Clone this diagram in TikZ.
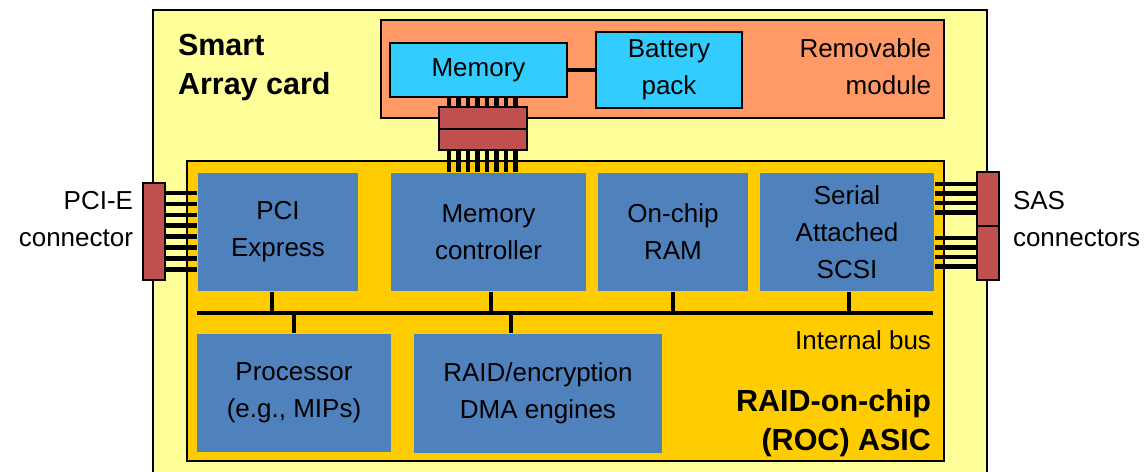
\documentclass[tikz,border=0pt]{standalone}
\usepackage{fontspec}
\setmainfont{Liberation Sans}
\definecolor{cardyellow}{HTML}{FFFF99}
\definecolor{modorange}{HTML}{FF9966}
\definecolor{rocgold}{HTML}{FFCC00}
\definecolor{chipblue}{HTML}{4F81BD}
\definecolor{memcyan}{HTML}{33CCFF}
\definecolor{plugred}{HTML}{C0504D}
\begin{document}
\begin{tikzpicture}[x=1pt, y=-1pt, line width=2pt,
  box/.style={inner sep=0pt, align=center, font=\fontsize{26}{37}\selectfont},
  area/.style={draw, inner sep=0pt},
  chipblk/.style={box, fill=chipblue},
  membox/.style={box, draw, fill=memcyan},
  plug/.style={draw, fill=plugred, inner sep=0pt},
  pin/.style={line width=4.5pt},
  bus/.style={line width=4pt},
  lbl/.style={inner sep=0pt, font=\fontsize{26}{37}\selectfont},
  hdr/.style={inner sep=0pt, font=\bfseries\fontsize{30.5}{39}\selectfont}]
  \useasboundingbox (0,0) rectangle (1147,471);
  % card and sub-areas
  \node[area, fill=cardyellow, minimum width=834pt, minimum height=470pt] (card) at (570,245) {};
  \node[area, line width=1.5pt, fill=modorange, minimum width=563pt, minimum height=98pt] (module) at (662.5,69) {};
  \node[area, fill=rocgold, minimum width=757pt, minimum height=300pt] (roc) at (565.5,311) {};
  % removable module
  \node[membox, minimum width=177pt, minimum height=54pt] (memory) at (478.5,70) {Memory};
  \node[membox, minimum width=146pt, minimum height=76pt] (battery) at (669,70) {Battery\\pack};
  \draw[bus] (memory.east) -- (battery.west);
  % ROC blocks
  \node[chipblk, minimum width=160pt, minimum height=118pt] (pci) at (278,232) {PCI\\Express};
  \node[chipblk, minimum width=195pt, minimum height=118pt] (memctrl) at (488.5,232) {Memory\\controller};
  \node[chipblk, minimum width=150pt, minimum height=118pt] (ram) at (673,232) {On-chip\\RAM};
  \node[chipblk, minimum width=174pt, minimum height=118pt] (sas) at (847,232) {Serial\\Attached\\SCSI};
  \node[chipblk, minimum width=194pt, minimum height=118pt] (proc) at (294,393) {Processor\\(e.g., MIPs)};
  \node[chipblk, minimum width=248pt, minimum height=119pt] (raid) at (538,393.5) {RAID/encryption\\DMA engines};
  % connectors
  \node[plug, minimum width=88pt, minimum height=43pt] (memconn) at (483,128.5) {};
  \draw (memconn.west) -- (memconn.east);
  \node[plug, minimum width=22pt, minimum height=97pt] (pcie) at (154,231.5) {};
  \node[plug, minimum width=22pt, minimum height=108pt] (sasconn) at (988,226) {};
  \draw (sasconn.west) -- (sasconn.east);
  \foreach \i [evaluate=\i as \px using 449+\i*9.5] in {0,...,7} {
    \draw[pin] (\px,0 |- memory.south) -- (\px,0 |- memconn.north);
    \draw[pin] (\px,0 |- memconn.south) -- (\px,0 |- memctrl.north);
  }
  \foreach \i [evaluate=\i as \py using 193+\i*10.9] in {0,...,7}
    \draw[pin] (pcie.east |- 0,\py) -- (pci.west |- 0,\py);
  \foreach \py in {184,193.5,203,212.5,238,247.5,257,266.5}
    \draw[pin] (sas.east |- 0,\py) -- (sasconn.west |- 0,\py);
  % internal bus
  \coordinate (busL) at (197,313);
  \coordinate (busR) at (933,313);
  \draw[bus] (busL) -- (busR);
  \draw[bus] ([xshift=-6]pci.south) -- ([xshift=-6]pci.south |- busL);
  \draw[bus] ([xshift=2]memctrl.south) -- ([xshift=2]memctrl.south |- busL);
  \draw[bus] (ram.south) -- (ram.south |- busL);
  \draw[bus] ([xshift=2]sas.south) -- ([xshift=2]sas.south |- busL);
  \draw[bus] (proc.north) -- (proc.north |- busL);
  \draw[bus] ([xshift=-27]raid.north) -- ([xshift=-27]raid.north |- busL);
  % labels
  \node[hdr, anchor=west, align=left] (cardtitle) at (177,68) {Smart\\Array card};
  \node[lbl, anchor=east, align=right] (modtitle) at (932,67) {Removable\\module};
  \node[lbl, anchor=east] (bustitle) at (932,340) {Internal bus};
  \node[hdr, anchor=east, align=right] (roctitle) at (932,423) {RAID-on-chip\\(ROC) ASIC};
  \node[lbl, anchor=east, align=right] (pcietitle) at (134,219) {PCI-E\\connector};
  \node[lbl, anchor=west, align=left] (sastitle) at (1012,219) {SAS\\connectors};
\end{tikzpicture}
\end{document}
